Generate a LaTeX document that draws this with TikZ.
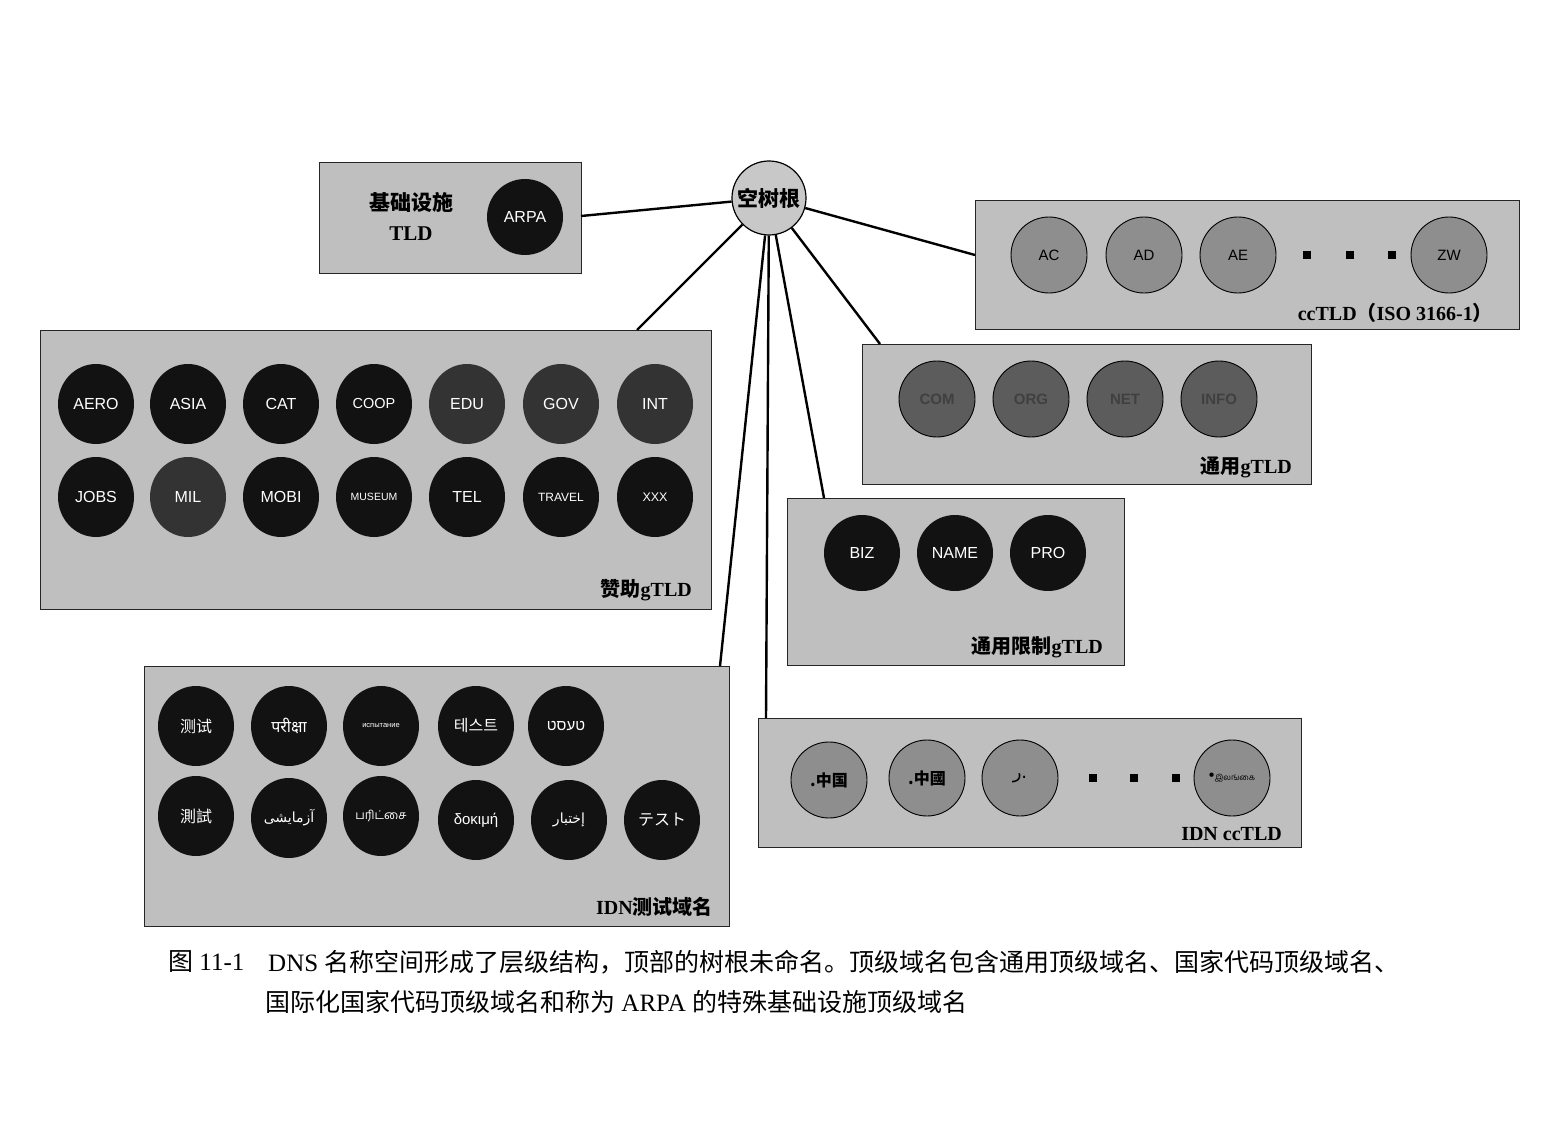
\documentclass[tikz,border=0pt]{standalone}
\usepackage{fontspec}
\usetikzlibrary{shapes.geometric}
\TeXXeTstate=1
\setmainfont{Liberation Serif}
\setsansfont{Liberation Sans}
\newfontfamily\cjk{Noto Sans CJK SC}
\newfontfamily\cjktc{Noto Sans CJK TC}
\newfontfamily\cjkjp{Noto Sans CJK JP}
\newfontfamily\cjkkr{Noto Sans CJK KR}
\newfontfamily\devafont[Script=Devanagari]{Noto Sans}
\newfontfamily\arabicfont[Script=Arabic]{DejaVu Sans}
\newfontfamily\hebfont[Script=Hebrew]{Liberation Sans}
\newfontfamily\tamilfont[Script=Tamil]{Hind Madurai}
\newcommand\myfs[1]{\fontsize{#1}{#1}\selectfont}
\definecolor{boxgray}{HTML}{BFBFBF}
\definecolor{rootgray}{HTML}{C8C8C8}
\definecolor{ccgray}{HTML}{8E8E8E}
\definecolor{gengray}{HTML}{5C5C5C}
\tikzset{
  tbox/.style={draw=black!85, fill=boxgray, line width=1pt, anchor=north west, inner sep=0pt},
  blk/.style={ellipse, fill=black!93, minimum width=76pt, minimum height=80pt, inner sep=0pt, text=white, font=\sffamily\myfs{16}},
  dgr/.style={blk, fill=black!80},
  rnd/.style={circle, fill=black!93, minimum size=76pt, inner sep=0pt, text=white, font=\sffamily\myfs{16}},
  cc/.style={circle, draw=black, line width=0.9pt, fill=ccgray, minimum size=76pt, inner sep=0pt, font=\sffamily\myfs{15}},
  gen/.style={cc, fill=gengray, text=black!75, font=\sffamily\bfseries\myfs{15}},
  lbl/.style={font=\bfseries\myfs{20}, anchor=east, inner sep=0pt},
  sq/.style={rectangle, fill=black, minimum size=8pt, inner sep=0pt},
  conn/.style={line width=2.4pt, black}
}
\begin{document}
\begin{tikzpicture}[x=1pt,y=-1pt]
\fill[white] (0,0) rectangle (1542,1126);
\useasboundingbox (0,0) rectangle (1542,1126);

% boxes
\node[tbox, minimum width=262pt, minimum height=111pt] (infra) at (319,162) {};
\node[tbox, minimum width=544pt, minimum height=129pt] (cctld) at (975,200) {};
\node[tbox, minimum width=671pt, minimum height=279pt] (spon) at (40,330) {};
\node[tbox, minimum width=449pt, minimum height=140pt] (gen) at (862,344) {};
\node[tbox, minimum width=337pt, minimum height=167pt] (restr) at (787,498) {};
\node[tbox, minimum width=585pt, minimum height=260pt] (idnt) at (144,666) {};
\node[tbox, minimum width=543pt, minimum height=129pt] (idncc) at (758,718) {};

% root
\node[circle, draw=black, line width=1.2pt, fill=rootgray, minimum size=74pt, inner sep=0pt,
      font=\cjk\bfseries\myfs{21}] (root) at (769,198) {空树根};

% connector end points
\coordinate (eInfra) at (581,216);
\coordinate (eCc) at (975,255);
\coordinate (eSpon) at (637,330);
\coordinate (eGen) at (880,344);
\coordinate (eRestr) at (824,498);
\coordinate (eIdnt) at (720,666);
\coordinate (eIdncc) at (766,718);
\foreach \e in {eInfra,eCc,eSpon,eGen,eRestr,eIdnt,eIdncc}
  \draw[conn] (root) -- (\e);

% infrastructure
\node[align=center, font=\bfseries\fontsize{21}{30}\selectfont, inner sep=0pt] (infralbl) at (411,216) {{\cjk 基础设施}\\TLD};
\node[rnd] (arpa) at (525,217) {ARPA};

% ccTLD
\node[cc] (ac) at (1049,255) {AC};
\node[cc] (ad) at (1144,255) {AD};
\node[cc] (ae) at (1238,255) {AE};
\node[sq] (cq1) at (1307,255) {};
\node[sq] (cq2) at (1350,255) {};
\node[sq] (cq3) at (1392,255) {};
\node[cc] (zw) at (1449,255) {ZW};
\node[lbl] (cclbl) at (1493,313) {ccTLD{\cjk （}ISO 3166-1{\cjk ）}};

% generic gTLD
\node[gen] (com) at (937,399) {COM};
\node[gen] (org) at (1031,399) {ORG};
\node[gen] (net) at (1125,399) {NET};
\node[gen] (info) at (1219,399) {INFO};
\node[lbl] (genlbl) at (1292,467) {{\cjk 通用}gTLD};

% sponsored
\node[blk] (aero) at (96,404) {AERO};
\node[blk] (asia) at (188,404) {ASIA};
\node[blk] (cat) at (281,404) {CAT};
\node[blk, font=\sffamily\myfs{14.5}] (coop) at (374,404) {COOP};
\node[dgr] (edu) at (467,404) {EDU};
\node[dgr] (gov) at (561,404) {GOV};
\node[dgr] (int) at (655,404) {INT};
\node[blk] (jobs) at (96,497) {JOBS};
\node[dgr] (mil) at (188,497) {MIL};
\node[blk] (mobi) at (281,497) {MOBI};
\node[blk, font=\sffamily\myfs{10.5}] (museum) at (374,497) {MUSEUM};
\node[blk] (tel) at (467,497) {TEL};
\node[blk, font=\sffamily\myfs{12}] (travel) at (561,497) {TRAVEL};
\node[blk, font=\sffamily\myfs{12.5}] (xxx) at (655,497) {XXX};
\node[lbl] (sponlbl) at (692,590) {{\cjk 赞助}gTLD};

% restricted
\node[rnd] (biz) at (862,553) {BIZ};
\node[rnd] (name) at (955,553) {NAME};
\node[rnd] (pro) at (1048,553) {PRO};
\node[lbl] (restrlbl) at (1103,647) {{\cjk 通用限制}gTLD};

% IDN test
\node[blk, font=\cjk\myfs{16}] (t1) at (196,726) {测试};
\node[blk, font=\devafont\myfs{16}] (t2) at (289,726) {परीक्षा};
\node[blk, font=\sffamily\myfs{7.5}] (t3) at (381,726) {испытание};
\node[blk, font=\cjkkr\myfs{16}] (t4) at (476,726) {테스트};
\node[blk, font=\sffamily\myfs{15}] (t5) at (566,726) {\hebfont\beginR טעסט\endR};
\node[blk, font=\cjktc\myfs{16}] (t6) at (196,816) {測試};
\node[blk, font=\myfs{14}] (t7) at (289,818) {\arabicfont\beginR آزمایشی\endR};
\node[blk, font=\tamilfont\myfs{12}] (t8) at (381,816) {பரிட்சை};
\node[blk, font=\sffamily\myfs{15}] (t9) at (476,820) {δοκιμή};
\node[blk, font=\myfs{14}] (t10) at (569,820) {\arabicfont\beginR إختبار\endR};
\node[blk, font=\cjkjp\myfs{16}] (t11) at (662,820) {テスト};
\node[lbl] (idntlbl) at (713,907) {IDN{\cjk 测试域名}};

% IDN ccTLD
\node[cc, font=\cjk\bfseries\myfs{16}] (i1) at (829,780) {.中国};
\node[cc, font=\cjktc\bfseries\myfs{16}] (i2) at (927,778) {.中國};
\node[cc, font=\myfs{18}] (i3) at (1020,778) {\arabicfont\beginR .ر\endR};
\node[sq] (iq1) at (1093,778) {};
\node[sq] (iq2) at (1134,778) {};
\node[sq] (iq3) at (1176,778) {};
\node[cc, font=\myfs{8}] (i4) at (1232,778) {{\sffamily\myfs{16}•}\tamilfont இலங்கை};
\node[lbl] (idncclbl) at (1282,834) {IDN ccTLD};

% caption
\node[anchor=west, inner sep=0pt, font=\myfs{25}] (capnum) at (168,962) {{\cjk 图} 11-1};
\node[anchor=west, inner sep=0pt, font=\myfs{25}] (cap1) at (268,962) {DNS {\cjk 名称空间形成了层级结构，顶部的树根未命名。顶级域名包含通用顶级域名、国家代码顶级域名、}};
\node[anchor=west, inner sep=0pt, font=\myfs{25}] (cap2) at (265,1002) {{\cjk 国际化国家代码顶级域名和称为} ARPA {\cjk 的特殊基础设施顶级域名}};
\end{tikzpicture}
\end{document}
